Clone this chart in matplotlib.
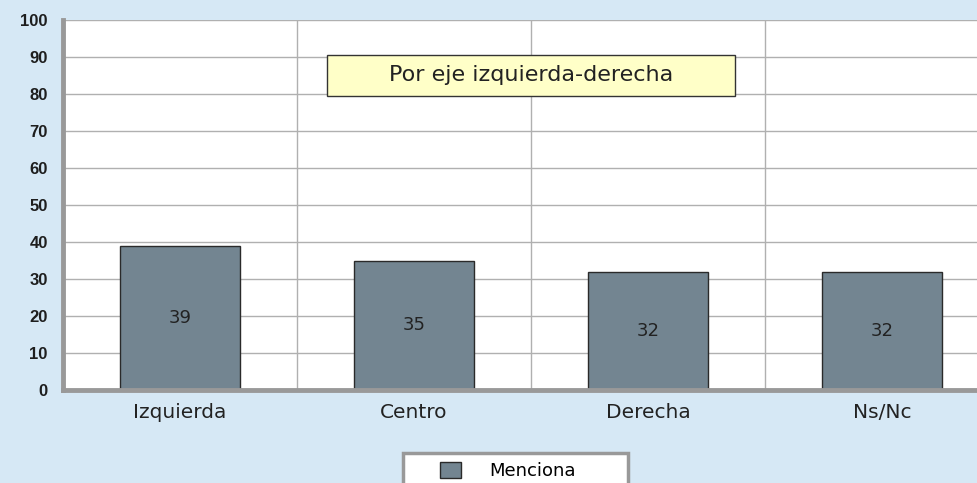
import matplotlib
matplotlib.use("Agg")
import matplotlib.pyplot as plt
from matplotlib.patches import Rectangle
import numpy as np

categorias = ['Izquierda', 'Centro', 'Derecha', 'Ns/Nc']
menciona = [39, 35, 32, 32]
yticks = list(range(0, 101, 10))

plt.rcParams['font.family'] = ['DejaVu Sans']

fondo = '#d6e8f5'
fig = plt.figure(figsize=(9.77, 4.83), dpi=100, facecolor=fondo)
ax = fig.add_axes([63/977, 93/483, 936/977, 370/483])
ax.set_facecolor('white')

x = np.arange(len(categorias))
barras = ax.bar(x, menciona, 0.51, color='#738591', edgecolor='#2a2a2a',
                linewidth=1, label='Menciona', zorder=3)

# etiquetas de valor en la mitad de cada barra
for rect in barras:
    h = rect.get_height()
    ax.text(rect.get_x() + rect.get_width() / 2, h / 2, '{}'.format(h),
            ha='center', va='center', fontsize=13, color='#222222', zorder=4)

ax.set_xlim(-0.5, 3.5)
ax.set_ylim(0, 100)
ax.set_yticks(yticks)
ax.set_yticklabels([str(v) for v in yticks], fontsize=12, fontweight='bold',
                   color='#1e1e1e', family='Liberation Sans')
ax.set_xticks(x)
ax.set_xticklabels(categorias, fontsize=14.5, color='#222222')
ax.tick_params(axis='both', which='both', length=0)
ax.tick_params(axis='x', pad=9)
ax.tick_params(axis='y', pad=11)

ax.grid(axis='y', color='#b0b0b0', linewidth=1, zorder=0)
ax.set_xticks(x[:-1] + 0.5, minor=True)
ax.grid(axis='x', which='minor', color='#b0b0b0', linewidth=1, zorder=0)

for lado in ['top', 'right']:
    ax.spines[lado].set_visible(False)
ax.spines['left'].set_color('#999999')
ax.spines['left'].set_linewidth(3.5)
ax.spines['bottom'].set_color('#999999')
ax.spines['bottom'].set_linewidth(3.5)
ax.spines['bottom'].set_zorder(5)

# recuadro del titulo
ax.add_patch(Rectangle((0.628, 79.5), 1.744, 11.1, facecolor='#ffffc8',
                       edgecolor='#333333', linewidth=1, zorder=6))
ax.text(1.5, 85.1, 'Por eje izquierda-derecha', ha='center', va='center',
        fontsize=16, color='#222222', zorder=7)

# leyenda
fig.patches.append(Rectangle((403/977, -0.05), 225/977, 0.05 + 30/483,
                             transform=fig.transFigure, facecolor='white',
                             edgecolor='#999999', linewidth=2.5, zorder=1))
leg = fig.legend(handles=[barras], labels=['Menciona'], loc='center left',
                 bbox_to_anchor=(440/977, 1 - 471/483), fontsize=13,
                 frameon=False, handlelength=1.15, handleheight=0.95,
                 handletextpad=1.6, borderpad=0, borderaxespad=0)

fig.savefig('out.png', dpi=100, facecolor=fondo)
